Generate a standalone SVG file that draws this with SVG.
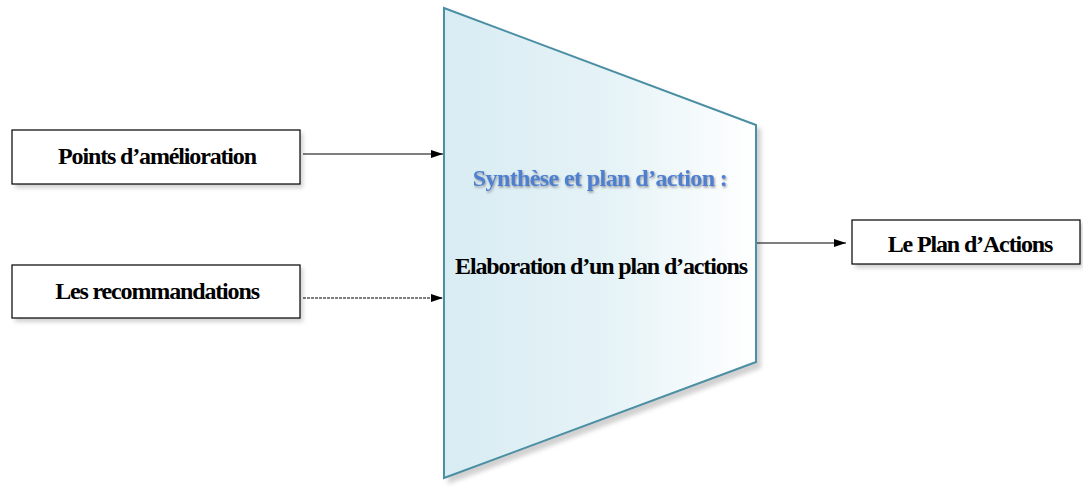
<svg xmlns="http://www.w3.org/2000/svg" width="1083" height="495" viewBox="0 0 1083 495">
  <style>
    .box { fill: #ffffff; stroke: #000000; stroke-width: 1.2; }
    .shadow { fill: #9a9a9a; opacity: 0.45; }
    .lbl { font-family: "Liberation Serif", "Times New Roman", serif; font-weight: bold; font-size: 24px; letter-spacing: -1.15px; fill: #000000; text-anchor: middle; }
    .title { font-family: "Liberation Serif", "Times New Roman", serif; font-weight: bold; font-size: 24px; letter-spacing: -0.6px; fill: #4f7fcf; text-anchor: middle; }
    .conn { stroke: #000000; stroke-width: 1.2; fill: none; marker-end: url(#arrow); }
  </style>
  <defs>
    <linearGradient id="funnelFill" x1="0" y1="0" x2="1" y2="0">
      <stop offset="0" stop-color="#d8ecf3"/>
      <stop offset="0.55" stop-color="#e6f3f7"/>
      <stop offset="1" stop-color="#ffffff"/>
    </linearGradient>
    <filter id="soft" x="-10%" y="-10%" width="120%" height="120%">
      <feGaussianBlur stdDeviation="2"/>
    </filter>
    <filter id="textShadow" x="-5%" y="-20%" width="110%" height="140%">
      <feDropShadow dx="1" dy="1.5" stdDeviation="0.8" flood-color="#555555" flood-opacity="0.6"/>
    </filter>
    <marker id="arrow" viewBox="0 0 12 10" refX="12" refY="5" markerWidth="12" markerHeight="10" markerUnits="userSpaceOnUse" orient="auto">
      <path d="M0,1 L12,5 L0,9 Z" fill="#000000"/>
    </marker>
  </defs>

  <!-- central process funnel -->
  <g id="funnel">
    <polygon class="shadow" filter="url(#soft)" points="448,12 761,129 761,368 448,484"/>
    <polygon points="444,8 756,125 756,362 444,478" fill="url(#funnelFill)" stroke="#4a8fa3" stroke-width="2"/>
    <text class="title" x="600" y="186" filter="url(#textShadow)">Synthèse et plan d’action :</text>
    <text class="lbl" x="601" y="274">Elaboration d’un plan d’actions</text>
  </g>

  <!-- input: improvement points -->
  <g id="points">
    <rect class="shadow" filter="url(#soft)" x="15" y="133" width="288" height="55"/>
    <rect class="box" x="12" y="130" width="288" height="54"/>
    <text class="lbl" x="157" y="164">Points d’amélioration</text>
  </g>

  <!-- input: recommendations -->
  <g id="recommandations">
    <rect class="shadow" filter="url(#soft)" x="15" y="268" width="288" height="54"/>
    <rect class="box" x="12" y="265" width="288" height="53"/>
    <text class="lbl" x="157" y="299">Les recommandations</text>
  </g>

  <!-- output: action plan -->
  <g id="plan">
    <rect class="shadow" filter="url(#soft)" x="855" y="223" width="228" height="45"/>
    <rect class="box" x="852" y="220" width="228" height="44"/>
    <text class="lbl" x="970" y="252">Le Plan d’Actions</text>
  </g>

  <g id="connectors">
    <line class="conn" x1="303" y1="154" x2="443" y2="154"/>
    <line class="conn" x1="303" y1="298" x2="443" y2="298" stroke-dasharray="3 1"/>
    <line class="conn" x1="757" y1="243" x2="846" y2="243"/>
  </g>
</svg>
